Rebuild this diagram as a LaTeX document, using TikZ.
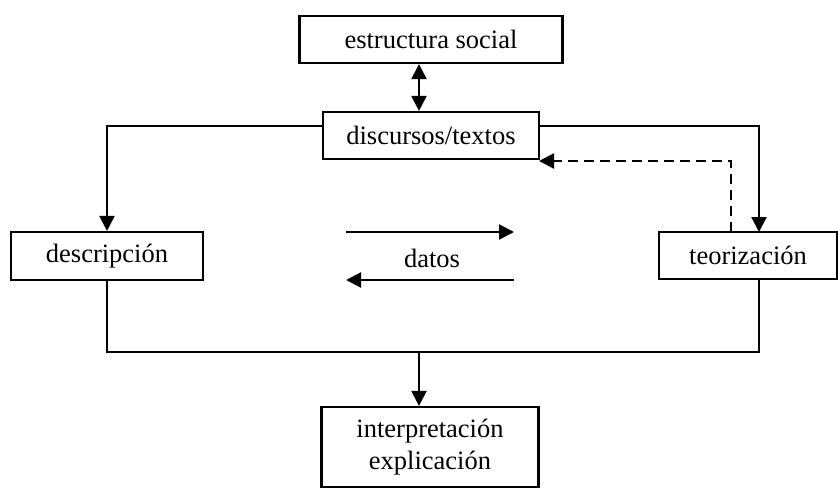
\documentclass[tikz,border=0pt]{standalone}
\usepackage{fontspec}
\setmainfont{Liberation Serif}
\usetikzlibrary{arrows.meta}
\begin{document}
\begin{tikzpicture}[x=1pt,y=-1pt,
  tip/.style={Triangle[length=15pt,width=15pt]},
  box/.style={draw,line width=2.2pt,inner sep=0pt,font=\fontsize{26.5}{32}\selectfont},
  arr/.style={line width=2.2pt,-{Triangle[length=15pt,width=15pt]}},
  ln/.style={line width=2.2pt}]
\useasboundingbox (0,0) rectangle (838,488);
\node[box,minimum width=263pt,minimum height=47pt] (es) at (431,39.5) {estructura social};
\node[box,minimum width=216pt,minimum height=47pt] (di) at (431,135.5) {discursos/textos};
\node[box,minimum width=192pt,minimum height=48pt] (de) at (107,256) {descripción};
\node[box,minimum width=178pt,minimum height=47pt] (te) at (748,255.5) {teorización};
\node[box,minimum width=217pt,minimum height=80pt,align=center] (ip) at (430,447) {interpretación\\explicación};
\node[font=\fontsize{26.5}{32}\selectfont] (da) at (432,258) {datos};
\coordinate (tin) at (759,232);
\coordinate (tout) at (759,279);
\coordinate (dsh) at (731,232);
\coordinate (dtip) at (539,161);
\coordinate (ra) at (346,232);
\coordinate (rb) at (514,232);
\coordinate (la) at (514,280);
\coordinate (lb) at (346,280);
\coordinate (bl) at (107,352);
\coordinate (br) at (759,352);
\coordinate (bm) at (419,352);
\draw[line width=2.2pt,{Triangle[length=15pt,width=15pt]}-{Triangle[length=15pt,width=15pt]}] (es.south -| bm) -- (di.north -| bm);
\draw[arr] ([yshift=9.5pt]di.west) -| (de.north);
\draw[arr] ([yshift=9.5pt]di.east) -| (tin);
\draw[arr,dash pattern=on 10pt off 6pt] (dsh) |- (dtip);
\draw[arr] (ra) -- (rb);
\draw[arr] (la) -- (lb);
\draw[ln] (de.south) -- (bl) -- (br) -- (tout);
\draw[arr] (bm) -- (ip.north -| bm);
\end{tikzpicture}
\end{document}
